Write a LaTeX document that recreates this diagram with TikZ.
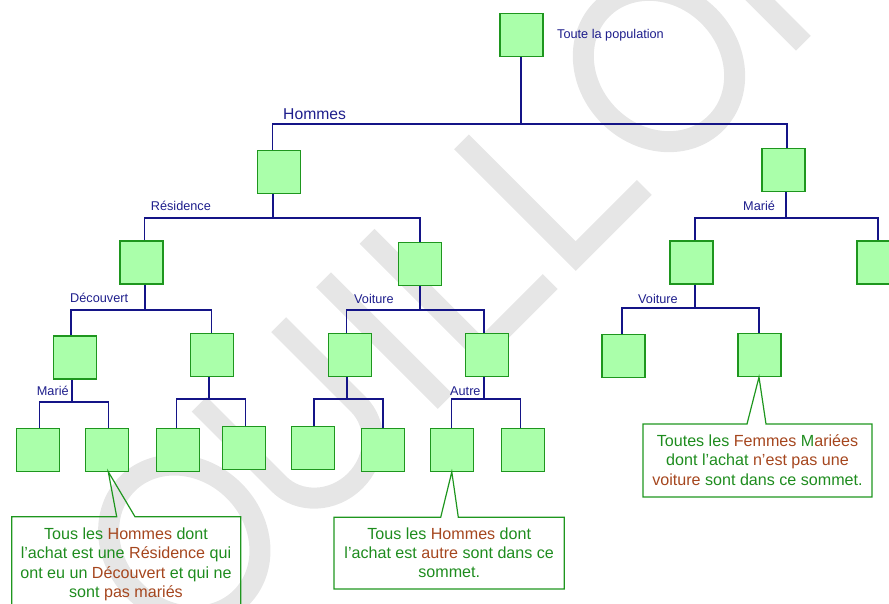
\documentclass[tikz,border=0pt]{standalone}
\usepackage{fontspec}
\setmainfont{Liberation Sans}
\definecolor{boxfill}{RGB}{170,255,170}
\definecolor{boxedge}{RGB}{30,150,30}
\definecolor{wire}{RGB}{20,20,135}
\definecolor{labelblue}{RGB}{30,30,140}
\definecolor{notegreen}{RGB}{30,140,30}
\definecolor{notebrown}{RGB}{165,70,30}
\definecolor{stampgray}{RGB}{230,230,230}
\begin{document}
\begin{tikzpicture}[x=1pt,y=-1pt,
  leaf/.style={draw=boxedge, fill=boxfill, line width=1.2pt,
    minimum width=43pt, minimum height=43pt, inner sep=0pt},
  stem/.style={draw=wire, line width=2pt},
  branch/.style={draw=wire, line width=1.2pt},
  lbl/.style={text=labelblue, font=\fontsize{12.7}{15}\selectfont,
    anchor=base west, inner sep=0pt},
  note/.style={draw=boxedge, line width=1.2pt, line join=miter},
  noteline/.style={anchor=base, inner sep=0pt, text=notegreen,
    font=\fontsize{16.1}{19.5}\selectfont},
  stampstroke/.style={draw=stampgray, line width=21pt, line join=miter},
]
\useasboundingbox (0,0) rectangle (889,603);

% background stamp: large letters set along a 45 degree baseline
\begin{scope}
  \clip (0,0) rectangle (889,603);
  \begin{scope}[shift={(423.3,423.3)}, rotate=45, yscale=-1]
    % O
    \draw[stampstroke] (-252,86) ellipse [x radius=70.5, y radius=80.5];
    % U
    \draw[stampstroke] (-145,172) -- (-145,59.5)
      arc[start angle=180, end angle=360, x radius=56.25, y radius=52] -- (-32.5,172);
    % I
    \draw[stampstroke] (31,0) -- (31,172);
    % L
    \draw[stampstroke] (92.5,172) -- (92.5,10.5) -- (190,10.5);
    % L
    \draw[stampstroke] (226,172) -- (226,10.5) -- (323,10.5);
    % O
    \draw[stampstroke] (419.3,86) ellipse [x radius=70.5, y radius=80.5];
    % upright stroke of the next letter
    \draw[stampstroke] (537.5,172) -- (537.5,0);
  \end{scope}
\end{scope}

% nodes of the tree
\node[leaf] (R)  at (521.5,35)  {};
\node[leaf] (H)  at (279,172)   {};
\node[leaf] (F)  at (783.5,170) {};
\node[leaf] (A)  at (141.5,262.5) {};
\node[leaf] (B)  at (420,264.3) {};
\node[leaf] (M1) at (691.5,262.5) {};
\node[leaf] (M2) at (878.5,262.5) {};
\node[leaf] (C)  at (75,357.5)  {};
\node[leaf] (D)  at (212.3,355) {};
\node[leaf] (E)  at (350,355)   {};
\node[leaf] (G)  at (487.3,355) {};
\node[leaf] (V1) at (623.5,356) {};
\node[leaf] (V2) at (759.5,355) {};
\node[leaf] (C1) at (38.3,449.7) {};
\node[leaf] (C2) at (107,449.7)  {};
\node[leaf] (D1) at (178.3,449.8) {};
\node[leaf] (D2) at (244.3,448.3) {};
\node[leaf] (E1) at (313.2,448.3) {};
\node[leaf] (E2) at (383,449.8)   {};
\node[leaf] (G1) at (451.8,449.8) {};
\node[leaf] (G2) at (523.3,449.8) {};

% junction points of the branches
\coordinate (jR)  at (520.7,124);
\coordinate (jH)  at (272.7,218);
\coordinate (jF)  at (786,218);
\coordinate (jA)  at (144.7,310);
\coordinate (jB)  at (420,310);
\coordinate (jM1) at (695,308);
\coordinate (jC)  at (71.5,402);
\coordinate (jD)  at (209,399);
\coordinate (jE)  at (346.7,399);
\coordinate (jG)  at (484,399);

% stems
\foreach \p in {R,H,F,A,B,M1,C,D,E,G}
  \draw[stem] (j\p |- \p.south) -- (j\p);

% branches
\draw[branch] ([xshift=-6.3pt]H.north) |- (jR) -| ([xshift=3.5pt]F.north);
\draw[branch] ([xshift=3.2pt]A.north) |- (jH) -| (B.north);
\draw[branch] ([xshift=3.5pt]M1.north) |- (jF) -| ([xshift=-0.5pt]M2.north);
\draw[branch] ([xshift=-4pt]C.north) |- (jA) -| ([xshift=-0.6pt]D.north);
\draw[branch] ([xshift=-3.3pt]E.north) |- (jB) -| ([xshift=-3.3pt]G.north);
\draw[branch] ([xshift=-1.5pt]V1.north) |- (jM1) -| ([xshift=-0.5pt]V2.north);
\draw[branch] ([xshift=1pt]C1.north) |- (jC) -| ([xshift=1.3pt]C2.north);
\draw[branch] ([xshift=-1.6pt]D1.north) |- (jD) -| ([xshift=1.4pt]D2.north);
\draw[branch] ([xshift=0.8pt]E1.north) |- (jE) -| (E2.north);
\draw[branch] (G1.north) |- (jG) -| ([xshift=-2.6pt]G2.north);

% branch labels
\node[lbl] (tpop) at (557,38) {Toute la population};
\node[lbl, font=\fontsize{15.7}{18}\selectfont] (thom) at (283,119.3) {Hommes};
\node[lbl] (tres) at (150.7,210.2) {Résidence};
\node[lbl] (tmar) at (743,210) {Marié};
\node[lbl] (tdec) at (70,302.7) {Découvert};
\node[lbl] (tvoi) at (354,303) {Voiture};
\node[lbl] (tvof) at (638,303) {Voiture};
\node[lbl] (tmah) at (36.7,395) {Marié};
\node[lbl] (taut) at (450,395.2) {Autre};

% callouts
\draw[note] (11.7,516.7) -- (116.7,516.7) -- ([xshift=1.3pt]C2.south)
  -- (135,516.7) -- (240.7,516.7) -- (240.7,612) -- (11.7,612) -- cycle;
\node[noteline] (n1a) at (126,539)   {Tous les \textcolor{notebrown}{Hommes} dont};
\node[noteline] (n1b) at (126,558.8) {l’achat est une \textcolor{notebrown}{Résidence} qui};
\node[noteline] (n1c) at (126,578.3) {ont eu un \textcolor{notebrown}{Découvert} et qui ne};
\node[noteline] (n1d) at (126,597.6) {sont \textcolor{notebrown}{pas mariés}};

\draw[note] (334,517.3) -- (440.7,517.3) -- (G1.south)
  -- (458.3,517.3) -- (564.3,517.3) -- (564.3,589) -- (334,589) -- cycle;
\node[noteline] (n2a) at (449.2,539)   {Tous les \textcolor{notebrown}{Hommes} dont};
\node[noteline] (n2b) at (449.2,558.4) {l’achat est \textcolor{notebrown}{autre} sont dans ce};
\node[noteline] (n2c) at (449.2,577.6) {sommet.};

\draw[note] (643,424) -- (747,424) -- ([xshift=-0.5pt]V2.south)
  -- (766,424) -- (872,424) -- (872,497) -- (643,497) -- cycle;
\node[noteline] (n3a) at (757.5,446)   {Toutes les \textcolor{notebrown}{Femmes} M\textcolor{notebrown}{ariées}};
\node[noteline] (n3b) at (757.5,465.5) {dont l’achat \textcolor{notebrown}{n’est pas une}};
\node[noteline] (n3c) at (757.5,485)   {\textcolor{notebrown}{voiture} sont dans ce sommet.};
\end{tikzpicture}
\end{document}
